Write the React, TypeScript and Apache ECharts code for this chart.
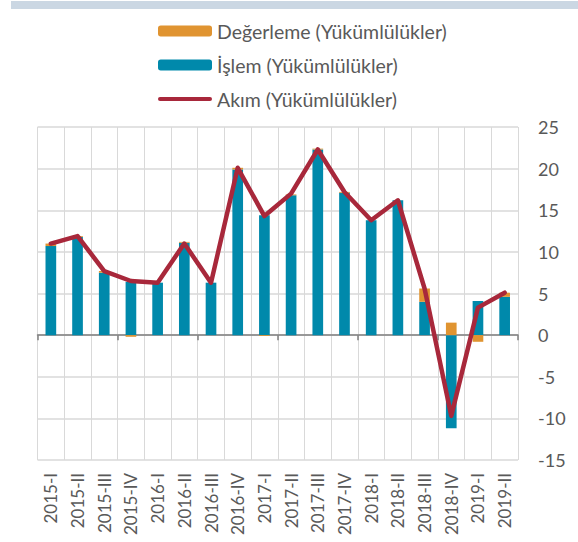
import React, { useEffect, useRef } from "react";
import * as echarts from "echarts";

const categories = [
  "2015-I", "2015-II", "2015-III", "2015-IV", "2016-I", "2016-II", "2016-III", "2016-IV",
  "2017-I", "2017-II", "2017-III", "2017-IV", "2018-I", "2018-II", "2018-III", "2018-IV",
  "2019-I", "2019-II",
];
const islem = [10.7, 11.8, 7.5, 6.4, 6.3, 11.1, 6.3, 19.9, 14.4, 16.8, 22.3, 17.1, 13.8, 16.2, 4.0, -11.2, 4.1, 4.6];
const degerleme = [0.3, 0.1, 0.2, -0.2, 0.0, 0.1, 0.0, 0.2, -0.1, 0.1, 0.1, 0.1, 0.0, 0.0, 1.6, 1.5, -0.8, 0.5];
const akim = [11.0, 11.9, 7.7, 6.5, 6.3, 11.0, 6.3, 20.1, 14.3, 17.0, 22.3, 17.2, 13.8, 16.2, 5.6, -9.7, 3.3, 5.1];
const yTicks = { min: -15, max: 25, interval: 5 };

const FONT = "Lato";
const TEXT = "#595959";
const RED = "#a8283b";

export default function App() {
  const ref = useRef<HTMLDivElement>(null);
  useEffect(() => {
    if (!ref.current) return;
    const chart = echarts.init(ref.current, undefined, { renderer: "svg" });
    chart.setOption({
      animation: false,
      textStyle: { fontFamily: FONT },
      graphic: [
        { type: "rect", shape: { x: 11, y: 1, width: 567, height: 8 }, style: { fill: "#cbd7e3" }, silent: true },
      ],
      legend: {
        orient: "vertical",
        left: 158,
        top: 21,
        itemWidth: 54,
        itemHeight: 11,
        itemGap: 14,
        padding: 0,
        textStyle: { fontFamily: FONT, fontSize: 19.5, color: TEXT },
        data: [
          { name: "Değerleme (Yükümlülükler)" },
          { name: "İşlem (Yükümlülükler)" },
          {
            name: "Akım (Yükümlülükler)",
            icon: "path://M2,0 H52 A2,2 0 0 1 52,4 H2 A2,2 0 0 1 2,0 Z",
            itemStyle: { color: RED },
          },
        ],
      },
      grid: { left: 37.5, right: 60, top: 127, bottom: 82, containLabel: false },
      xAxis: [
        {
          type: "category",
          data: categories,
          position: "bottom",
          axisLine: { show: false, onZero: false },
          axisTick: { show: false },
          splitLine: { show: true, lineStyle: { color: "#d9d9d9", width: 1 } },
          axisLabel: { rotate: 90, margin: 13, fontSize: 17, color: TEXT, fontFamily: FONT, interval: 0 },
        },
        {
          type: "category",
          data: categories,
          position: "bottom",
          axisLine: { show: true, onZero: true, lineStyle: { color: "#7f7f7f", width: 1.5 } },
          axisTick: { show: true, length: 5, lineStyle: { color: "#7f7f7f", width: 1.5 } },
          axisLabel: { show: false },
          splitLine: { show: false },
        },
      ],
      yAxis: {
        type: "value",
        position: "right",
        min: yTicks.min,
        max: yTicks.max,
        interval: yTicks.interval,
        axisLine: { show: false },
        axisTick: { show: false },
        splitLine: { show: true, lineStyle: { color: "#d9d9d9", width: 1.5 } },
        axisLabel: { fontSize: 18, color: TEXT, fontFamily: FONT, margin: 20, align: "left" },
      },
      series: [
        {
          name: "İşlem (Yükümlülükler)",
          type: "bar",
          stack: "a",
          data: islem,
          barWidth: "40%",
          itemStyle: { color: "#0089ab" },
          z: 2,
        },
        {
          name: "Değerleme (Yükümlülükler)",
          type: "bar",
          stack: "a",
          data: degerleme,
          barWidth: "40%",
          itemStyle: { color: "#e09431" },
          z: 2,
        },
        {
          name: "Akım (Yükümlülükler)",
          type: "line",
          data: akim,
          symbol: "none",
          lineStyle: { color: RED, width: 4.5, cap: "round", join: "round" },
          itemStyle: { color: RED },
          z: 5,
        },
      ],
    });
    return () => chart.dispose();
  }, []);
  return <div ref={ref} style={{ width: 578, height: 542, position: "absolute", left: 0, top: 0 }} />;
}
